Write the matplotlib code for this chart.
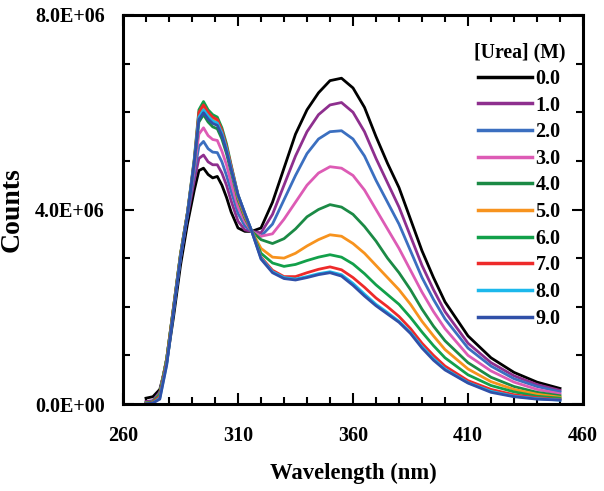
import matplotlib
matplotlib.use("Agg")
import matplotlib.pyplot as plt
from matplotlib.ticker import FixedLocator, MultipleLocator, FuncFormatter

# Wavelength grid (nm)
wavelength = [270, 273, 276, 279, 282, 285, 288, 291, 293, 295, 297, 299, 301, 303, 305, 307, 310, 313, 316,
              320, 325, 330, 335, 340, 345, 350, 355, 360, 365, 370, 375, 380, 385, 390, 395, 400, 410, 420, 430, 440, 450]

x_ticks = [260, 310, 360, 410, 460]
urea_labels = ["0.0", "1.0", "2.0", "3.0", "4.0", "5.0", "6.0", "7.0", "8.0", "9.0"]

# Counts in millions
counts_0 = [0.12, 0.15, 0.30, 0.85, 1.80, 2.85, 3.70, 4.40, 4.80, 4.85, 4.72, 4.65, 4.68, 4.50, 4.25, 3.95, 3.62, 3.55, 3.55,
            3.62, 4.15, 4.85, 5.55, 6.05, 6.40, 6.65, 6.70, 6.50, 6.10, 5.50, 4.95, 4.45, 3.80, 3.15, 2.60, 2.10, 1.40, 0.95, 0.65, 0.45, 0.32]
counts_1 = [0.05, 0.07, 0.25, 0.92, 1.95, 3.00, 3.85, 4.60, 5.05, 5.12, 4.98, 4.92, 4.92, 4.75, 4.50, 4.18, 3.76, 3.58, 3.55,
            3.52, 3.90, 4.50, 5.10, 5.60, 5.95, 6.15, 6.20, 6.00, 5.60, 5.05, 4.55, 4.05, 3.45, 2.85, 2.35, 1.90, 1.25, 0.85, 0.58, 0.40, 0.28]
counts_2 = [0.03, 0.05, 0.22, 0.93, 1.97, 3.05, 3.90, 4.75, 5.30, 5.40, 5.25, 5.18, 5.17, 4.98, 4.70, 4.38, 3.92, 3.66, 3.55,
            3.45, 3.70, 4.20, 4.70, 5.15, 5.45, 5.60, 5.62, 5.45, 5.10, 4.60, 4.15, 3.70, 3.15, 2.60, 2.15, 1.75, 1.15, 0.78, 0.52, 0.36, 0.25]
counts_3 = [0.02, 0.04, 0.20, 0.93, 2.00, 3.08, 3.93, 4.85, 5.55, 5.68, 5.52, 5.44, 5.42, 5.20, 4.92, 4.55, 4.05, 3.75, 3.55,
            3.45, 3.50, 3.80, 4.15, 4.50, 4.75, 4.88, 4.85, 4.70, 4.40, 4.00, 3.60, 3.20, 2.75, 2.30, 1.90, 1.55, 1.00, 0.68, 0.45, 0.30, 0.21]
counts_4 = [0.02, 0.04, 0.20, 0.93, 2.00, 3.08, 3.93, 4.95, 5.80, 5.95, 5.80, 5.70, 5.66, 5.45, 5.15, 4.78, 4.20, 3.82, 3.55,
            3.38, 3.30, 3.40, 3.60, 3.85, 4.00, 4.10, 4.05, 3.90, 3.65, 3.35, 3.00, 2.70, 2.35, 1.95, 1.60, 1.30, 0.85, 0.55, 0.36, 0.24, 0.17]
counts_5 = [0.02, 0.04, 0.20, 0.93, 2.00, 3.08, 3.93, 5.00, 5.95, 6.10, 5.95, 5.85, 5.80, 5.58, 5.25, 4.85, 4.25, 3.86, 3.55,
            3.20, 3.02, 3.00, 3.10, 3.25, 3.38, 3.48, 3.45, 3.30, 3.10, 2.85, 2.60, 2.35, 2.05, 1.70, 1.40, 1.12, 0.72, 0.46, 0.30, 0.20, 0.14]
counts_6 = [0.02, 0.04, 0.20, 0.93, 2.00, 3.08, 3.93, 5.05, 6.05, 6.22, 6.05, 5.95, 5.90, 5.68, 5.35, 4.92, 4.30, 3.90, 3.55,
            3.10, 2.90, 2.83, 2.87, 2.95, 3.02, 3.07, 3.02, 2.88, 2.68, 2.45, 2.25, 2.05, 1.78, 1.48, 1.20, 0.95, 0.60, 0.38, 0.25, 0.16, 0.12]
counts_7 = [0.01, 0.03, 0.16, 0.88, 1.97, 3.05, 3.92, 5.02, 6.00, 6.15, 6.00, 5.90, 5.85, 5.63, 5.30, 4.90, 4.30, 3.90, 3.55,
            3.02, 2.75, 2.62, 2.62, 2.70, 2.77, 2.82, 2.76, 2.60, 2.40, 2.18, 2.00, 1.80, 1.55, 1.25, 1.00, 0.78, 0.48, 0.30, 0.19, 0.13, 0.09]
counts_8 = [0.00, 0.02, 0.12, 0.82, 1.92, 3.02, 3.90, 5.00, 5.90, 6.05, 5.92, 5.82, 5.78, 5.57, 5.25, 4.85, 4.30, 3.92, 3.55,
            3.00, 2.72, 2.60, 2.57, 2.62, 2.68, 2.72, 2.66, 2.48, 2.26, 2.05, 1.88, 1.70, 1.47, 1.18, 0.93, 0.72, 0.44, 0.26, 0.16, 0.11, 0.08]
counts_9 = [0.00, 0.02, 0.10, 0.80, 1.90, 3.00, 3.88, 4.98, 5.85, 5.99, 5.86, 5.77, 5.73, 5.52, 5.20, 4.82, 4.30, 3.92, 3.55,
            2.98, 2.70, 2.58, 2.55, 2.60, 2.66, 2.70, 2.63, 2.44, 2.22, 2.02, 1.85, 1.68, 1.45, 1.15, 0.90, 0.70, 0.43, 0.24, 0.15, 0.10, 0.08]

series = [counts_0, counts_1, counts_2, counts_3, counts_4, counts_5, counts_6, counts_7, counts_8, counts_9]
colors = ["#000000", "#8E2F8E", "#3B6FC0", "#DD5BB5", "#1B8A45", "#F7931E", "#12A04A", "#EE2A2A", "#1CB8EC", "#3050A8"]

plt.rcParams['font.family'] = ['Liberation Serif', 'DejaVu Serif']
plt.rcParams['font.weight'] = 'bold'

fig = plt.figure(figsize=(6.04, 4.91), dpi=100)
ax = fig.add_axes([123/604, 87/491, 460/604, 389/491])

for lab, vals, c in zip(urea_labels, series, colors):
    ax.plot(wavelength, [v * 1e6 for v in vals], color=c, lw=2.0, label=lab)

ax.set_xlim(x_ticks[0], x_ticks[-1])
ax.set_ylim(0, 8e6)
ax.xaxis.set_major_locator(FixedLocator(x_ticks))
ax.xaxis.set_minor_locator(MultipleLocator(10))
ax.yaxis.set_major_locator(MultipleLocator(4e6))
ax.yaxis.set_minor_locator(MultipleLocator(1e6))

def sci(v, pos):
    if v == 0:
        return "0.0E+00"
    e = int(f"{v:.1E}".split("E")[1])
    m = v / 10**e
    return f"{m:.1f}E+{e:02d}"
ax.yaxis.set_major_formatter(FuncFormatter(sci))

ax.tick_params(which='both', direction='in', top=True, right=True, width=1.5)
ax.tick_params(which='major', length=8)
ax.tick_params(which='minor', length=5)
ax.tick_params(axis='x', which='major', pad=16, labelsize=14.5)
ax.tick_params(axis='y', which='major', pad=13, labelsize=14.5)
for s in ax.spines.values():
    s.set_linewidth(2.2)

ax.set_xlabel("Wavelength (nm)", fontsize=16.3, fontweight='bold')
ax.set_ylabel("Counts", fontsize=20, fontweight='bold')
ax.xaxis.set_label_coords(0.5, -0.152)
ax.yaxis.set_label_coords(-0.213, 0.5)

leg = ax.legend(title="[Urea] (M)", loc='upper right', bbox_to_anchor=(0.961, 0.93),
                frameon=False, fontsize=14.5, title_fontsize=14.2, handlelength=2.7,
                handletextpad=0.15, labelspacing=0.33, borderpad=0, borderaxespad=0)
leg.get_title().set_fontweight('bold')
for line in leg.get_lines():
    line.set_linewidth(2.5)

fig.savefig("out.png", dpi=100)
